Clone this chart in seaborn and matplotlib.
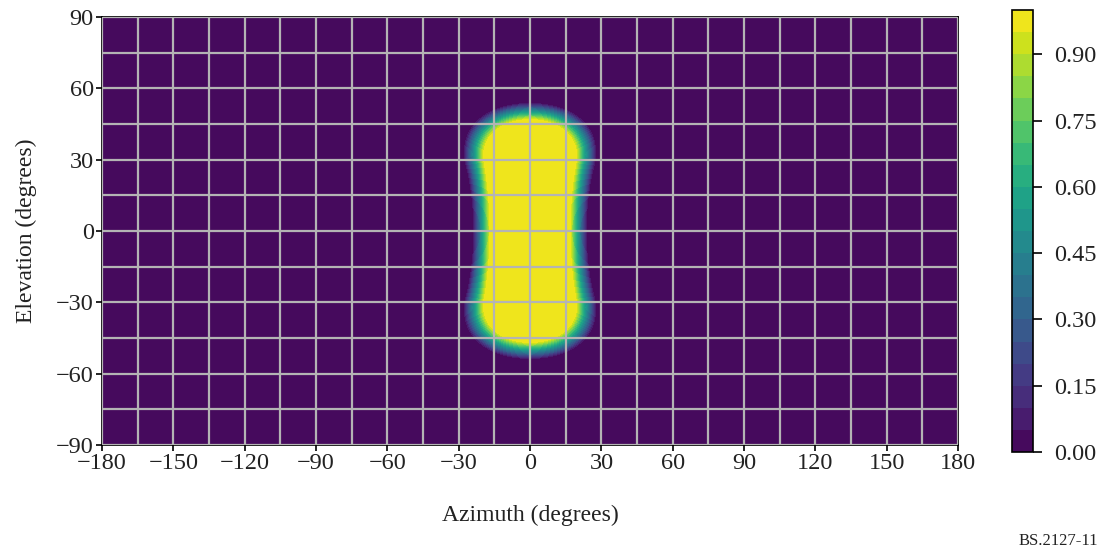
import numpy as np
import matplotlib
matplotlib.use("Agg")
import matplotlib.pyplot as plt
import seaborn as sns

# Values (degrees)
arc_elevations = [-30.0, 30.0]      # extent arc along azimuth 0
core_radius = 16.5                   # gain == 1 inside this angular distance
fade_radius = 24.0                   # gain == 0 beyond this angular distance
levels = [i * 0.05 for i in range(21)]
cbar_ticks = [0.00, 0.15, 0.30, 0.45, 0.60, 0.75, 0.90]
x_ticks = [-180, -150, -120, -90, -60, -30, 0, 30, 60, 90, 120, 150, 180]
y_ticks = [-90, -60, -30, 0, 30, 60, 90]
grid_step = 15

sns.set_theme(style="white")
plt.rcParams['font.family'] = ['Liberation Serif', 'DejaVu Serif']

az = np.linspace(-180, 180, 721)
el = np.linspace(-90, 90, 361)
AZ, EL = np.meshgrid(az, el)
a = np.radians(AZ); e = np.radians(EL)
X = np.cos(e) * np.cos(a); Y = np.cos(e) * np.sin(a); Z = np.sin(e)
proj_el = np.degrees(np.arctan2(Z, X))
on_arc = (X > 0) & (proj_el >= arc_elevations[0]) & (proj_el <= arc_elevations[1])
d_line = np.degrees(np.arcsin(np.clip(np.abs(Y), 0, 1)))
def ang_to(elv):
    ev = np.radians(elv)
    return np.degrees(np.arccos(np.clip(X * np.cos(ev) + Z * np.sin(ev), -1, 1)))
d_end = np.minimum(ang_to(arc_elevations[0]), ang_to(arc_elevations[1]))
dist = np.where(on_arc, d_line, d_end)
gain = np.clip((fade_radius - dist) / (fade_radius - core_radius), 0, 1)

fig = plt.figure(figsize=(11.09, 5.57), dpi=100)
ax = fig.add_axes([0.0920, 0.2011, 0.7719, 0.7684])
cax = fig.add_axes([0.9125, 0.1885, 0.0189, 0.7935])

cs = ax.contourf(AZ, EL, gain, levels=levels, cmap='viridis', vmin=0, vmax=1)
ax.set_xlim(-180, 180); ax.set_ylim(-90, 90)
ax.set_xticks(x_ticks)
ax.set_yticks(y_ticks)
ax.set_xticks(np.arange(-180, 181, grid_step), minor=True)
ax.set_yticks(np.arange(-90, 91, grid_step), minor=True)
ax.set_xticklabels([f"\u2212{abs(v)}" if v < 0 else str(v) for v in x_ticks])
ax.set_yticklabels([f"\u2212{abs(v)}" if v < 0 else str(v) for v in y_ticks])
ax.set_axisbelow(False)
ax.grid(True, which='both', color='#b4b4b4', linewidth=1.6)
ax.tick_params(which='major', direction='out', length=4, width=1.2, color='black',
               labelsize=17.5, bottom=True, left=True, pad=2, labelcolor='#222222')
ax.tick_params(which='minor', length=0)
for s in ax.spines.values():
    s.set_color('black'); s.set_linewidth(1.2)
ax.set_xlabel("Azimuth (degrees)", fontsize=17, labelpad=22, color='#222222')
ax.set_ylabel("Elevation (degrees)", fontsize=17, labelpad=14, color='#222222')

cb = fig.colorbar(cs, cax=cax, ticks=cbar_ticks)
cb.ax.set_yticklabels([f"{t:.2f}" for t in cbar_ticks])
cb.ax.tick_params(direction='out', length=6.5, width=1.2, color='black', labelsize=17.5,
                  right=True, pad=9, labelcolor='#222222')
cb.outline.set_edgecolor('black'); cb.outline.set_linewidth(1.2)

fig.text(0.99, 0.014, "BS.2127-11", ha='right', va='bottom', fontsize=12, color='#222222')
fig.savefig("out.png", dpi=100, facecolor='white')
